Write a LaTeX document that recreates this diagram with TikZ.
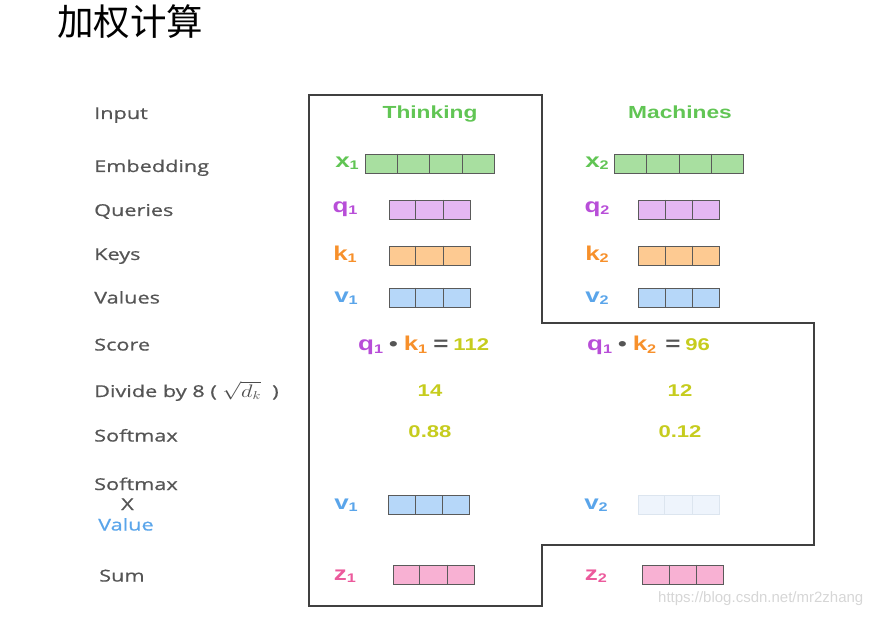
\documentclass[tikz,border=0pt]{standalone}
\usepackage{fontspec}
\usepackage{amsmath}
\setmainfont{Liberation Sans}
\newfontfamily\diag[FakeStretch=1.3]{Liberation Sans}
\newfontfamily\rowfont[FakeStretch=1.33,FakeBold=0.8]{Open Sans}
\newfontfamily\cjk{Noto Sans CJK SC}
\usetikzlibrary{calc}

\definecolor{rowgray}{HTML}{555555}
\definecolor{cellline}{HTML}{5A5A5A}
\definecolor{wordgreen}{HTML}{61C554}
\definecolor{embfill}{HTML}{A8DFA0}
\definecolor{qfill}{HTML}{E4B7F2}
\definecolor{qtext}{HTML}{B84ED8}
\definecolor{kfill}{HTML}{FDCA92}
\definecolor{ktext}{HTML}{F7902B}
\definecolor{vfill}{HTML}{B6D7F9}
\definecolor{vtext}{HTML}{5AA5EA}
\definecolor{zfill}{HTML}{F8B1D3}
\definecolor{ztext}{HTML}{EC5A9C}
\definecolor{numcol}{HTML}{C6CC1E}
\definecolor{fadefill}{HTML}{EEF4FC}
\definecolor{fadeline}{HTML}{DCE5EF}

\newcommand{\low}[1]{\raisebox{-0.2ex}{\fontsize{12.5}{13}\selectfont #1}}
\newcommand{\dotop}{\hspace{6pt}{\color{rowgray}\raisebox{0.05ex}{\fontsize{19}{19}\selectfont\textbullet}}\hspace{6pt}}

\begin{document}
\begin{tikzpicture}[x=1pt,y=-1pt,
    rowlab/.style={anchor=base west, inner sep=0pt, text=rowgray,
      font=\rowfont\fontsize{16.3}{18}\selectfont},
    word/.style={anchor=base, text=wordgreen, font=\diag\bfseries\fontsize{17.5}{20}\selectfont},
    vlab/.style={font=\diag\bfseries\fontsize{20}{22}\selectfont},
    num/.style={anchor=base, text=numcol, font=\diag\bfseries\fontsize{17}{20}\selectfont},
    cell/.style={draw=cellline, line width=0.8pt, minimum height=19pt, inner sep=0pt},
    embbox/.style={cell, fill=embfill, minimum width=129pt},
    qbox/.style={cell, fill=qfill, minimum width=81pt},
    kbox/.style={cell, fill=kfill, minimum width=81pt},
    vbox/.style={cell, fill=vfill, minimum width=81pt},
    zbox/.style={cell, fill=zfill, minimum width=81pt},
    fadebox/.style={cell, draw=fadeline, fill=fadefill, minimum width=81pt}]
  \useasboundingbox (0,0) rectangle (883,617);

  % title
  \node[anchor=west, inner sep=0pt, font=\cjk\fontsize{36.5}{39}\selectfont] (title) at (57,22) {加权计算};

  % outline
  \draw[draw=black!75, line width=1.1pt] (309,95) -| (542,323) -| (814,545) -| (542,606) -| (309,95) -- cycle;

  % row labels
  \node[rowlab] (rin) at (94,119) {Input};
  \node[rowlab] (remb) at (94,172) {Embedding};
  \node[rowlab] (rq) at (94,216) {Queries};
  \node[rowlab] (rk) at (94,260) {Keys};
  \node[rowlab] (rv) at (94,303.5) {Values};
  \node[rowlab] (rscore) at (94,350.5) {Score};
  \node[rowlab] (rdiv) at (94,397) {Divide by 8 ( {\color{black!70}\scalebox{1.3}[1.05]{$\sqrt{d_k}$}} \ )};
  \node[rowlab] (rsoft) at (94,441.5) {Softmax};
  \node[rowlab] (rsoft2) at (94,490) {Softmax};
  \node[rowlab] (rx) at (121,510) {X};
  \node[rowlab, text=vtext] (rval) at (98,530.5) {Value};
  \node[rowlab] (rsum) at (99,581.5) {Sum};

  % words
  \node[word] (think) at (430,119) {Thinking};
  \node[word] (mach) at (680,119) {Machines};

  % first word
  \node[vlab, text=wordgreen] (x1l) at (347,163) {x\low{1}};
  \node[embbox] (x1) at (429.5,163.5) {};
  \node[vlab, text=qtext] (q1l) at (345,209) {q\low{1}};
  \node[qbox] (q1) at (429.5,209.5) {};
  \node[vlab, text=ktext] (k1l) at (345,254) {k\low{1}};
  \node[kbox] (k1) at (429.5,255.5) {};
  \node[vlab, text=vtext] (v1l) at (346,298) {v\low{1}};
  \node[vbox] (v1) at (429.5,297.5) {};

  % second word
  \node[vlab, text=wordgreen] (x2l) at (597,163) {x\low{2}};
  \node[embbox] (x2) at (679,163.5) {};
  \node[vlab, text=qtext] (q2l) at (597,209) {q\low{2}};
  \node[qbox] (q2) at (679,209.5) {};
  \node[vlab, text=ktext] (k2l) at (597,254) {k\low{2}};
  \node[kbox] (k2) at (679,255.5) {};
  \node[vlab, text=vtext] (v2l) at (597,298) {v\low{2}};
  \node[vbox] (v2) at (679,297.5) {};

  % score, divide, softmax
  \node[vlab, anchor=base west, inner sep=0pt] (s1) at (358,351) {\color{qtext}q\low{1}\dotop\color{ktext}k\low{1}\hspace{6pt}\color{rowgray}=\hspace{5pt}\color{numcol}\fontsize{17}{20}\selectfont 112};
  \node[vlab, anchor=base west, inner sep=0pt] (s2) at (587,351) {\color{qtext}q\low{1}\dotop\color{ktext}k\low{2}\hspace{9pt}\color{rowgray}=\hspace{5pt}\color{numcol}\fontsize{17}{20}\selectfont 96};
  \node[num] (d1) at (430,396.5) {14};
  \node[num] (d2) at (680,396.5) {12};
  \node[num] (p1) at (430,437.5) {0.88};
  \node[num] (p2) at (680,437.5) {0.12};

  % weighted values
  \node[vlab, text=vtext] (w1l) at (346,505) {v\low{1}};
  \node[vbox] (w1) at (429,505) {};
  \node[vlab, text=vtext] (w2l) at (596,505) {v\low{2}};
  \node[fadebox] (w2) at (678.5,505) {};

  % sums
  \node[vlab, text=ztext] (z1l) at (345,576) {z\low{1}};
  \node[zbox] (z1) at (433.5,574.5) {};
  \node[vlab, text=ztext] (z2l) at (596,576) {z\low{2}};
  \node[zbox] (z2) at (683,574.5) {};

  % cell dividers
  \foreach \b in {x1,x2}
    \foreach \f in {0.25,0.5,0.75}
      \draw[cellline, line width=0.8pt] ($(\b.north west)!\f!(\b.north east)$) -- ($(\b.south west)!\f!(\b.south east)$);
  \foreach \b in {q1,q2,k1,k2,v1,v2,w1,z1,z2}
    \foreach \f in {0.3333,0.6667}
      \draw[cellline, line width=0.8pt] ($(\b.north west)!\f!(\b.north east)$) -- ($(\b.south west)!\f!(\b.south east)$);
  \foreach \f in {0.3333,0.6667}
    \draw[fadeline, line width=0.8pt] ($(w2.north west)!\f!(w2.north east)$) -- ($(w2.south west)!\f!(w2.south east)$);

  \node[anchor=west, inner sep=0pt, text=black!16, font=\fontsize{15}{17}\selectfont] (mark) at (658,599) {https://blog.csdn.net/mr2zhang};
\end{tikzpicture}
\end{document}
